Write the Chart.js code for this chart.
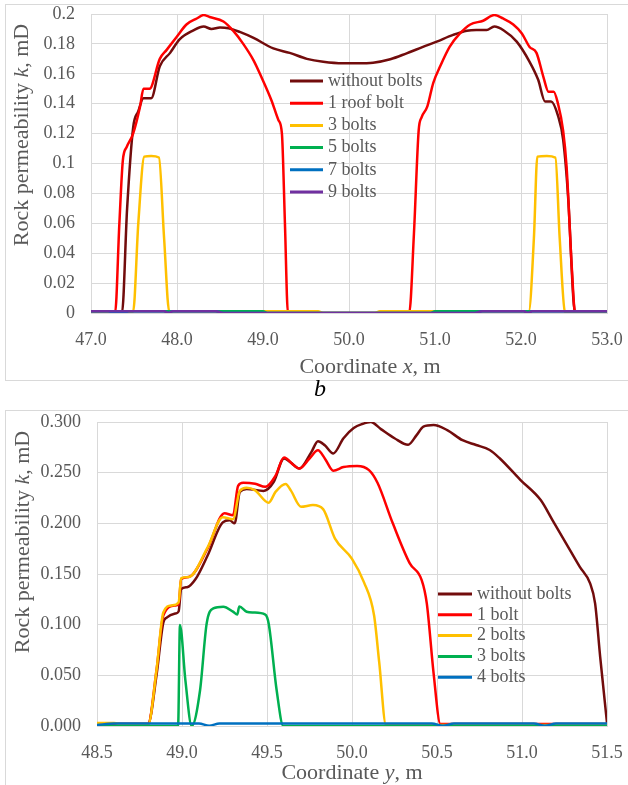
<!DOCTYPE html>
<html>
<head>
<meta charset="utf-8">
<script src="https://cdn.jsdelivr.net/npm/chart.js@4.4.0/dist/chart.umd.min.js"></script>
<style>
html, body { margin: 0; padding: 0; background: #fff; overflow: hidden; }
#page { position: relative; width: 628px; height: 785px; overflow: hidden; }
.frame { position: absolute; border: 1px solid #D9D9D9; }
#frameTop { left: 5px; top: 4px; width: 660px; height: 375px; }
#frameBottom { left: 5px; top: 410px; width: 660px; height: 400px; }
.wrap { position: absolute; left: 0; width: 628px; height: 385px; }
#wrapTop { top: 0; }
#wrapBottom { top: 400px; }
#label-b { position: absolute; left: 0; width: 640px; top: 375px; text-align: center;
  font: italic 24px "Liberation Serif"; color: #000; }
</style>
</head>
<body>
<div id="page">
  <div class="frame" id="frameTop"></div>
  <div class="frame" id="frameBottom"></div>
  <div class="wrap" id="wrapTop"><canvas id="chartTop" width="628" height="385"></canvas></div>
  <div id="label-b">b</div>
  <div class="wrap" id="wrapBottom"><canvas id="chartBottom" width="628" height="385"></canvas></div>
</div>
<script>
// ---- top chart: coordinate x ----
const topLabels = ['without bolts', '1 roof bolt', '3 bolts', '5 bolts', '7 bolts', '9 bolts'];
const topXTicks = [47, 53, 1];
const topYTicks = [0, 0.2, 0.02];

const topNoBoltsX = [47.0, 47.36, 47.42, 47.49, 47.55, 47.61, 47.70, 47.80, 47.92, 48.03, 48.19, 48.31, 48.40, 48.50, 48.60, 48.73, 48.89, 49.12, 49.31, 49.51, 49.70, 49.93, 50.10, 50.28, 50.48, 50.67, 50.86, 51.02, 51.21, 51.37, 51.48, 51.60, 51.69, 51.80, 51.95, 52.10, 52.20, 52.28, 52.35, 52.43, 52.49, 52.55, 52.61, 52.63, 53.0];
const topNoBoltsY = [0, 0, 0.07, 0.124, 0.135, 0.1437, 0.1437, 0.165, 0.174, 0.183, 0.189, 0.1916, 0.190, 0.191, 0.1905, 0.188, 0.184, 0.177, 0.174, 0.170, 0.168, 0.167, 0.167, 0.1674, 0.1697, 0.1737, 0.178, 0.1815, 0.186, 0.1888, 0.1893, 0.1893, 0.1916, 0.189, 0.1815, 0.168, 0.156, 0.1415, 0.1415, 0.132, 0.116, 0.0756, 0.0087, 0, 0];

const topRoofX = [47.0, 47.28, 47.33, 47.37, 47.415, 47.49, 47.57, 47.61, 47.68, 47.80, 47.88, 48.00, 48.11, 48.23, 48.31, 48.38, 48.54, 48.65, 48.77, 48.89, 48.98, 49.10, 49.18, 49.22, 49.255, 49.29, 50.70, 50.755, 50.81, 50.845, 50.91, 50.98, 51.06, 51.17, 51.29, 51.41, 51.56, 51.69, 51.79, 51.91, 52.01, 52.10, 52.18, 52.26, 52.32, 52.38, 52.43, 52.49, 52.53, 52.59, 52.63, 52.65, 53.0];
const topRoofY = [0, 0, 0.06, 0.102, 0.111, 0.120, 0.138, 0.150, 0.150, 0.170, 0.176, 0.185, 0.193, 0.197, 0.1993, 0.198, 0.195, 0.189, 0.180, 0.169, 0.158, 0.142, 0.129, 0.120, 0.06, 0, 0, 0.053, 0.122, 0.131, 0.138, 0.154, 0.165, 0.178, 0.187, 0.193, 0.1955, 0.1993, 0.197, 0.193, 0.187, 0.178, 0.174, 0.158, 0.148, 0.148, 0.140, 0.122, 0.098, 0.031, 0, 0, 0];

const topThreeX = [47.0, 47.49, 47.55, 47.62, 47.70, 47.79, 47.85, 47.91, 47.95, 49.64, 49.70, 50.30, 50.36, 52.05, 52.09, 52.15, 52.19, 52.30, 52.40, 52.45, 52.51, 52.55, 53.0];
const topThreeY = [0, 0.001, 0.06, 0.1046, 0.105, 0.104, 0.05, 0.001, 0.0012, 0.0012, 0, 0, 0.0012, 0.0012, 0.001, 0.05, 0.1046, 0.105, 0.104, 0.05, 0.001, 0, 0];

const topFiveX = [47.0, 49.0, 49.05, 50.95, 51.0, 53.0];
const topFiveY = [0.0012, 0.0012, 0, 0, 0.0012, 0.0012];

const topSevenX = [47.0, 47.20, 47.27, 47.38, 47.44, 47.85, 47.90, 47.95, 48.45, 48.55, 51.45, 51.55, 52.03, 52.08, 52.13, 53.0];
const topSevenY = [0.0012, 0.0012, 0, 0, 0.0012, 0.0012, 0, 0.0012, 0.0012, 0, 0, 0.0012, 0.0012, 0, 0.0012, 0.0012];

const topNineX = [47.0, 47.85, 47.90, 47.95, 48.45, 48.55, 51.45, 51.55, 52.03, 52.08, 52.13, 53.0];
const topNineY = [0.0012, 0.0012, 0, 0.0012, 0.0012, 0, 0, 0.0012, 0.0012, 0, 0.0012, 0.0012];

// ---- bottom chart: coordinate y ----
const botLabels = ['without bolts', '1 bolt', '2 bolts', '3 bolts', '4 bolts'];
const botXTicks = [48.5, 51.5, 0.5];
const botYTicks = [0, 0.3, 0.05];

const botNoBoltsX = [48.5, 48.80, 48.85, 48.89, 48.91, 48.96, 48.98, 48.995, 49.03, 49.08, 49.15, 49.24, 49.28, 49.31, 49.34, 49.38, 49.48, 49.54, 49.60, 49.64, 49.69, 49.76, 49.80, 49.84, 49.89, 49.95, 50.01, 50.06, 50.11, 50.17, 50.25, 50.33, 50.38, 50.42, 50.48, 50.56, 50.65, 50.73, 50.81, 50.87, 50.99, 51.11, 51.18, 51.26, 51.34, 51.40, 51.43, 51.46, 51.50];
const botNoBoltsY = [0.002, 0.002, 0.05, 0.102, 0.107, 0.111, 0.113, 0.135, 0.137, 0.145, 0.168, 0.201, 0.203, 0.200, 0.231, 0.234, 0.232, 0.241, 0.264, 0.260, 0.254, 0.270, 0.281, 0.277, 0.269, 0.284, 0.294, 0.298, 0.300, 0.293, 0.284, 0.2775, 0.287, 0.2954, 0.297, 0.292, 0.282, 0.2773, 0.2724, 0.264, 0.243, 0.223, 0.203, 0.180, 0.157, 0.141, 0.121, 0.068, 0.003];

const botOneX = [48.5, 48.80, 48.85, 48.89, 48.96, 48.98, 48.995, 49.04, 49.15, 49.25, 49.30, 49.33, 49.36, 49.43, 49.49, 49.55, 49.60, 49.66, 49.69, 49.75, 49.80, 49.84, 49.89, 49.95, 50.03, 50.10, 50.15, 50.24, 50.34, 50.41, 50.44, 50.48, 50.52, 51.5];
const botOneY = [0.002, 0.002, 0.055, 0.109, 0.119, 0.120, 0.145, 0.147, 0.175, 0.210, 0.208, 0.237, 0.240, 0.239, 0.236, 0.247, 0.265, 0.257, 0.254, 0.264, 0.272, 0.264, 0.252, 0.2555, 0.2566, 0.2525, 0.240, 0.200, 0.1605, 0.144, 0.121, 0.052, 0.002, 0.002];

const botTwoX = [48.5, 48.60, 48.66, 48.80, 48.85, 48.89, 48.94, 48.98, 48.995, 49.04, 49.15, 49.24, 49.30, 49.34, 49.38, 49.43, 49.51, 49.55, 49.61, 49.64, 49.70, 49.77, 49.83, 49.90, 50.0, 50.07, 50.13, 50.16, 50.20, 51.5];
const botTwoY = [0.003, 0.003, 0.001, 0.001, 0.055, 0.112, 0.119, 0.122, 0.146, 0.147, 0.176, 0.206, 0.204, 0.232, 0.235, 0.2325, 0.2204, 0.231, 0.2388, 0.2325, 0.2164, 0.218, 0.214, 0.185, 0.165, 0.142, 0.109, 0.063, 0.001, 0.001];

const botThreeX = [48.5, 48.977, 48.988, 49.02, 49.057, 49.106, 49.145, 49.184, 49.243, 49.30, 49.325, 49.337, 49.38, 49.42, 49.49, 49.51, 49.557, 49.596, 51.5];
const botThreeY = [0, 0, 0.0997, 0.045, 0, 0.035, 0.101, 0.116, 0.1177, 0.1128, 0.110, 0.118, 0.1128, 0.112, 0.110, 0.101, 0.035, 0, 0];

const botFourX = [48.5, 48.6, 49.10, 49.16, 49.22, 50.47, 50.535, 50.60, 51.07, 51.135, 51.20, 51.5];
const botFourY = [0.001, 0.0025, 0.0025, 0.0003, 0.0025, 0.0025, 0.0003, 0.0025, 0.0025, 0.0003, 0.0025, 0.0025];

const seriesColors = ['#720C0C', '#FF0000', '#FFC000', '#00B050', '#0070C0', '#7030A0'];

const TEXT = '#595959';
const GRID = '#D9D9D9';
const SERIF = '"Liberation Serif", "Times New Roman", serif';

Chart.defaults.font.family = SERIF;
Chart.defaults.font.size = 18;
Chart.defaults.color = TEXT;

// 把 x/y 数组合成点
function toPoints(xs, ys) {
    return xs.map((x, i) => ({ x: x, y: ys[i] }));
}

function buildDatasets(labels, xsList, ysList) {
    const n = labels.length;
    return labels.map((label, i) => ({
        label: label,
        data: toPoints(xsList[i], ysList[i]),
        borderColor: seriesColors[i],
        backgroundColor: seriesColors[i],
        borderWidth: 2.5,
        pointRadius: 0,
        fill: false,
        cubicInterpolationMode: 'monotone',
        order: n - i   // 后面的系列画在上层
    }));
}

// 文字里有斜体字母，分段绘制
function drawMixed(ctx, parts, cx, cy, rotate) {
    ctx.save();
    ctx.translate(cx, cy);
    if (rotate) ctx.rotate(-Math.PI / 2);
    ctx.textBaseline = 'middle';
    ctx.fillStyle = TEXT;
    let total = 0;
    parts.forEach(p => {
        ctx.font = (p[1] ? 'italic ' : '') + '22px ' + SERIF;
        total += ctx.measureText(p[0]).width;
    });
    let x = -total / 2;
    parts.forEach(p => {
        ctx.font = (p[1] ? 'italic ' : '') + '22px ' + SERIF;
        ctx.fillText(p[0], x, 0);
        x += ctx.measureText(p[0]).width;
    });
    ctx.restore();
}

const decorPlugin = {
    id: 'decor',
    afterDraw(chart, args, opts) {
        const ctx = chart.ctx;
        // 图例（在绘图区内部）
        ctx.save();
        ctx.font = '18px ' + SERIF;
        ctx.textBaseline = 'middle';
        chart.data.datasets.forEach((ds, i) => {
            const y = opts.legendY + i * opts.legendGap;
            ctx.strokeStyle = ds.borderColor;
            ctx.lineWidth = 3;
            ctx.beginPath();
            ctx.moveTo(opts.legendX, y);
            ctx.lineTo(opts.legendX + opts.legendLen, y);
            ctx.stroke();
            ctx.fillStyle = TEXT;
            ctx.fillText(ds.label, opts.legendX + opts.legendLen + 5, y);
        });
        ctx.restore();
        // 坐标轴标题
        drawMixed(ctx, opts.xTitle, opts.xTitlePos[0], opts.xTitlePos[1], false);
        drawMixed(ctx, opts.yTitle, opts.yTitlePos[0], opts.yTitlePos[1], true);
    }
};

function makeChart(canvasId, cfg) {
    const ctx = document.getElementById(canvasId).getContext('2d');
    return new Chart(ctx, {
        type: 'line',
        data: { datasets: buildDatasets(cfg.labels, cfg.xs, cfg.ys) },
        plugins: [decorPlugin],
        options: {
            responsive: false,
            animation: false,
            devicePixelRatio: 1,
            layout: { padding: cfg.padding },
            plugins: {
                legend: { display: false },
                tooltip: { enabled: false },
                decor: cfg.decor
            },
            scales: {
                x: {
                    type: 'linear',
                    min: cfg.xTicks[0],
                    max: cfg.xTicks[1],
                    ticks: {
                        stepSize: cfg.xTicks[2],
                        padding: cfg.xTickPad,
                        maxRotation: 0,
                        callback: v => Number(v).toFixed(1)
                    },
                    grid: { color: GRID, lineWidth: 1, drawTicks: false },
                    border: { color: GRID, width: 1 },
                    afterFit: s => {
                        s.height = cfg.xAxisHeight;
                        s.paddingLeft = 0;
                        s.paddingRight = 0;
                    }
                },
                y: {
                    type: 'linear',
                    min: cfg.yTicks[0],
                    max: cfg.yTicks[1],
                    ticks: {
                        stepSize: cfg.yTicks[2],
                        padding: 16,
                        callback: cfg.yFormat
                    },
                    grid: { color: GRID, lineWidth: 1, drawTicks: false },
                    border: { color: GRID, width: 1 },
                    afterFit: s => {
                        s.width = cfg.yAxisWidth;
                        s.paddingTop = 0;
                        s.paddingBottom = 0;
                    }
                }
            }
        }
    });
}

makeChart('chartTop', {
    labels: topLabels,
    xs: [topNoBoltsX, topRoofX, topThreeX, topFiveX, topSevenX, topNineX],
    ys: [topNoBoltsY, topRoofY, topThreeY, topFiveY, topSevenY, topNineY],
    xTicks: topXTicks,
    yTicks: topYTicks,
    yFormat: v => String(Number(Number(v).toFixed(2))),
    padding: { left: 0, top: 14, right: 21, bottom: 0 },
    yAxisWidth: 91,
    xAxisHeight: 72,
    xTickPad: 16,
    decor: {
        legendX: 290, legendY: 81, legendGap: 22.2, legendLen: 33,
        xTitle: [['Coordinate ', false], ['x', true], [', m', false]],
        xTitlePos: [370, 367],
        yTitle: [['Rock permeability ', false], ['k', true], [', mD', false]],
        yTitlePos: [22, 135]
    }
});

makeChart('chartBottom', {
    labels: botLabels,
    xs: [botNoBoltsX, botOneX, botTwoX, botThreeX, botFourX],
    ys: [botNoBoltsY, botOneY, botTwoY, botThreeY, botFourY],
    xTicks: botXTicks,
    yTicks: botYTicks,
    yFormat: v => Number(v).toFixed(3),
    padding: { left: 0, top: 22, right: 21, bottom: 0 },
    yAxisWidth: 97,
    xAxisHeight: 59,
    xTickPad: 16,
    decor: {
        legendX: 438, legendY: 194, legendGap: 20.8, legendLen: 34,
        xTitle: [['Coordinate ', false], ['y', true], [', m', false]],
        xTitlePos: [352, 373],
        yTitle: [['Rock permeability ', false], ['k', true], [', mD', false]],
        yTitlePos: [23, 142]
    }
});
</script>
</body>
</html>
